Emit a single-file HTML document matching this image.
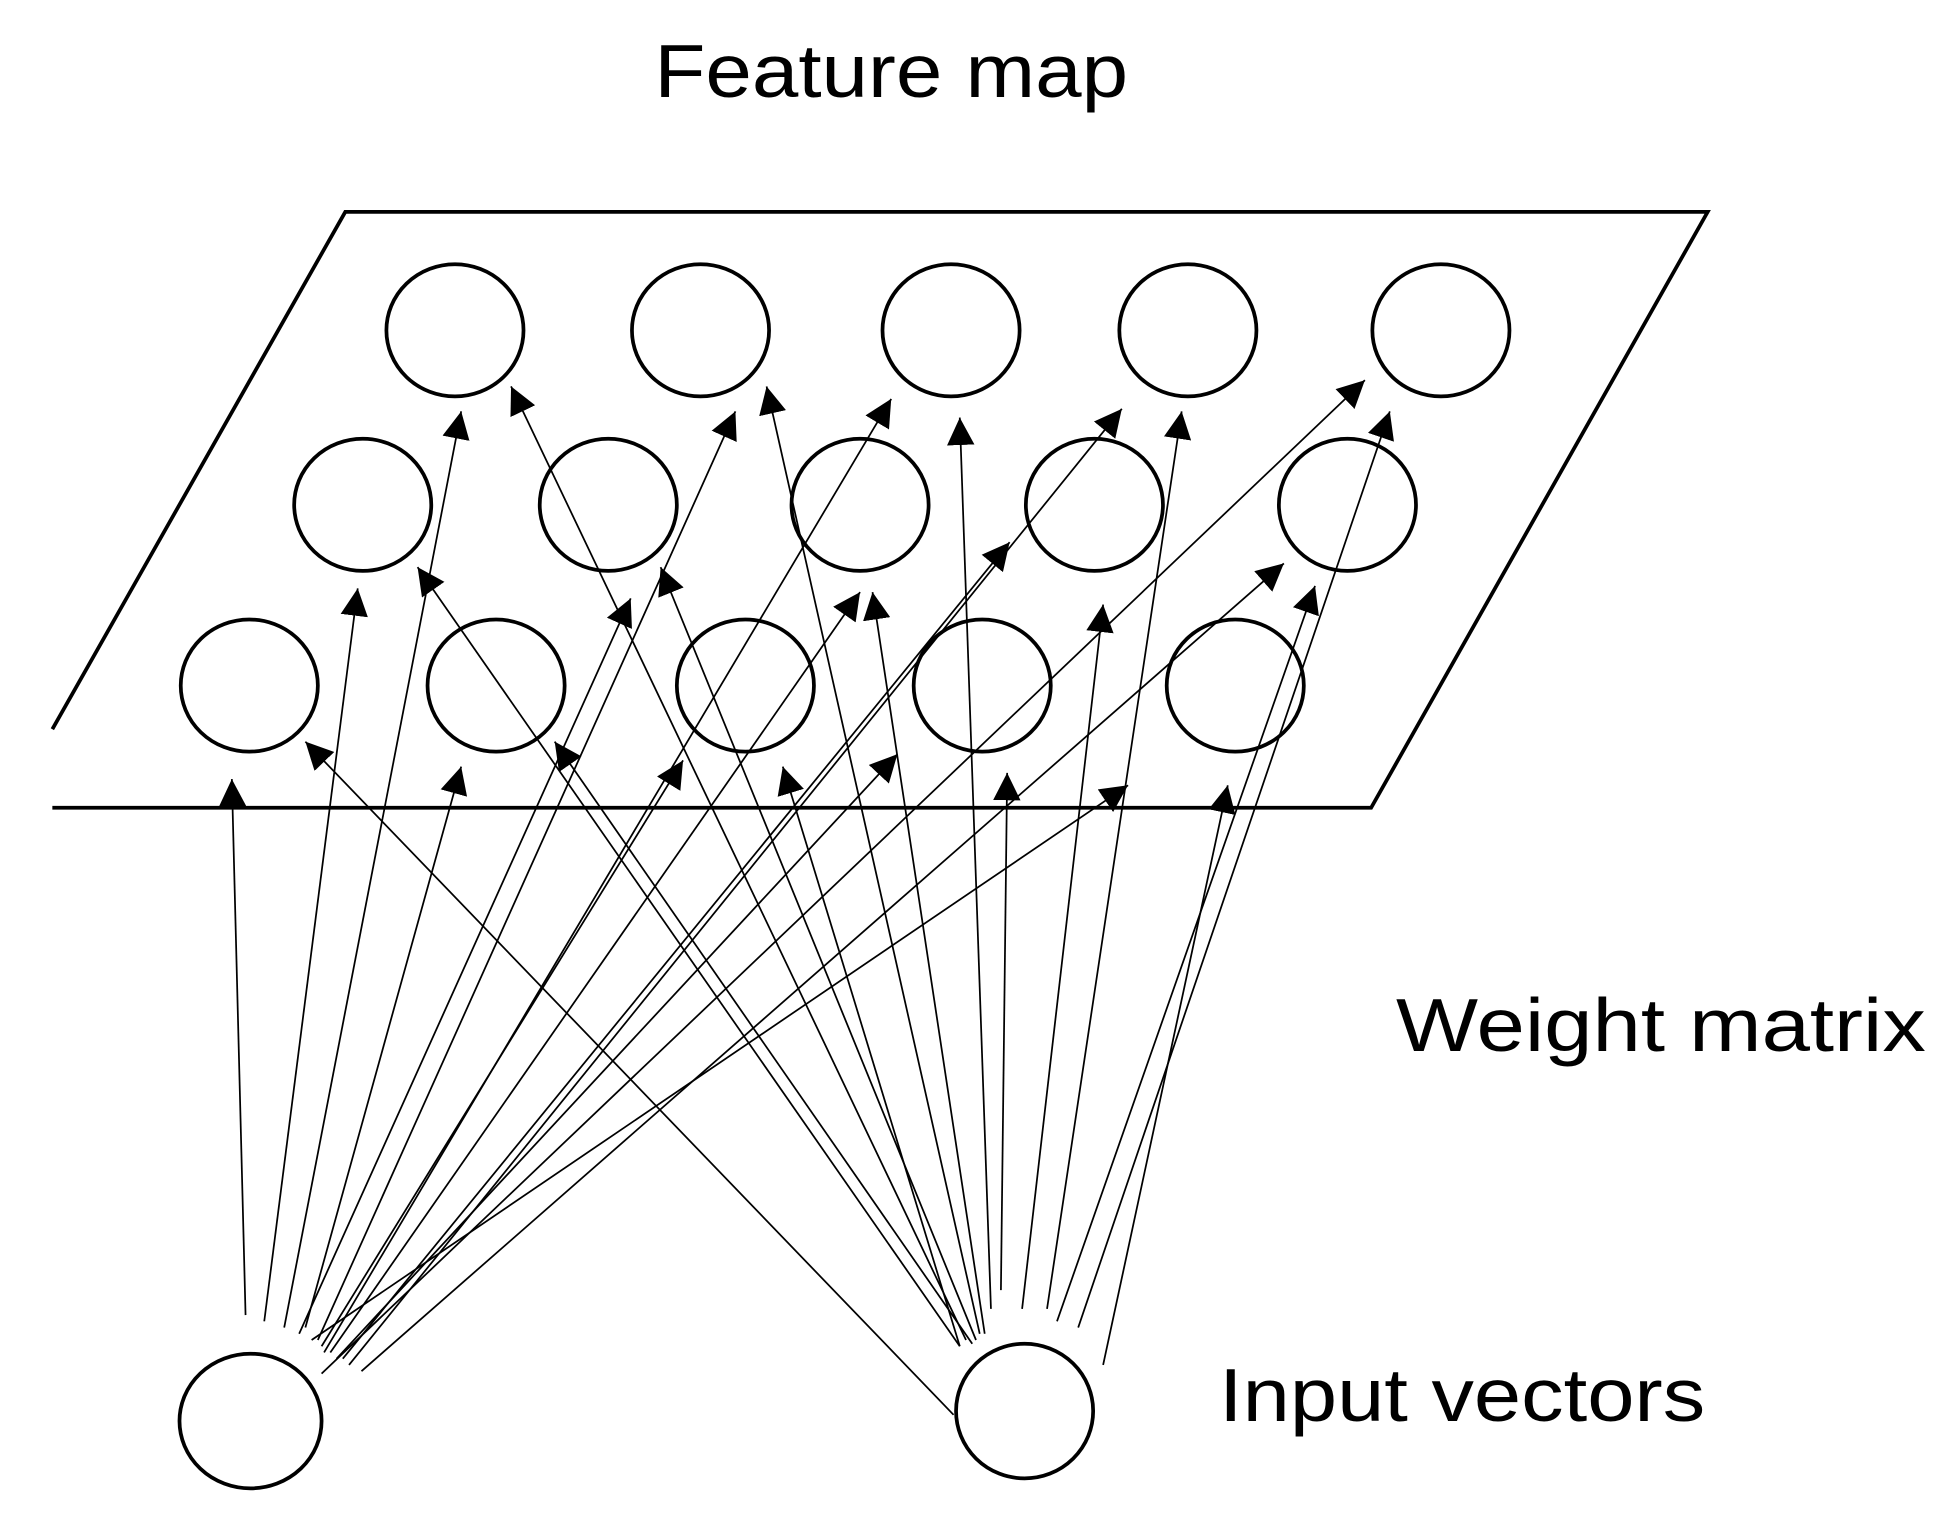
<!DOCTYPE html>
<html><head><meta charset="utf-8"><style>html,body{margin:0;padding:0;background:#fff}svg{display:block}</style></head>
<body>
<svg width="1942" height="1522" viewBox="0 0 1558 1221" preserveAspectRatio="none" xmlns="http://www.w3.org/2000/svg">
<defs><marker id="a" viewBox="0 0 10 10" refX="10" refY="5" markerWidth="22" markerHeight="22" markerUnits="userSpaceOnUse" orient="auto"><path d="M0,0 L10,5 L0,10 z" fill="#000"/></marker></defs>
<g font-family="Liberation Sans, sans-serif" fill="#000">
<text x="525" y="78" font-size="60" textLength="380" lengthAdjust="spacingAndGlyphs">Feature map</text>
<text x="1120" y="843" font-size="60" textLength="425" lengthAdjust="spacingAndGlyphs">Weight matrix</text>
<text x="978" y="1140" font-size="60" textLength="390" lengthAdjust="spacingAndGlyphs">Input vectors</text>
</g>
<g fill="none" stroke="#000" stroke-width="3">
<polyline points="42,585 277,170 1370,170 1100,648 42,648"/>
<g stroke-width="3">
<ellipse cx="365" cy="265" rx="55" ry="53"/><ellipse cx="562" cy="265" rx="55" ry="53"/><ellipse cx="763" cy="265" rx="55" ry="53"/><ellipse cx="953" cy="265" rx="55" ry="53"/><ellipse cx="1156" cy="265" rx="55" ry="53"/>
<ellipse cx="291" cy="405" rx="55" ry="53"/><ellipse cx="488" cy="405" rx="55" ry="53"/><ellipse cx="690" cy="405" rx="55" ry="53"/><ellipse cx="878" cy="405" rx="55" ry="53"/><ellipse cx="1081" cy="405" rx="55" ry="53"/>
<ellipse cx="200" cy="550" rx="55" ry="53"/><ellipse cx="398" cy="550" rx="55" ry="53"/><ellipse cx="598" cy="550" rx="55" ry="53"/><ellipse cx="788" cy="550" rx="55" ry="53"/><ellipse cx="991" cy="550" rx="55" ry="53"/>
<ellipse cx="201" cy="1140" rx="57" ry="54"/><ellipse cx="822" cy="1132" rx="55" ry="54"/>
</g>
</g>
<g stroke="#000" stroke-width="1.4" marker-end="url(#a)">
<line x1="197" y1="1055" x2="186" y2="625"/>
<line x1="212" y1="1060" x2="287" y2="472"/>
<line x1="228" y1="1065" x2="370" y2="330"/>
<line x1="245" y1="1065" x2="370" y2="615"/>
<line x1="240" y1="1070" x2="506" y2="480"/>
<line x1="255" y1="1075" x2="590" y2="330"/>
<line x1="258" y1="1080" x2="548" y2="610"/>
<line x1="260" y1="1085" x2="715" y2="320"/>
<line x1="265" y1="1085" x2="690" y2="475"/>
<line x1="270" y1="1090" x2="720" y2="605"/>
<line x1="275" y1="1090" x2="810" y2="435"/>
<line x1="280" y1="1095" x2="900" y2="328"/>
<line x1="258" y1="1102" x2="1095" y2="305"/>
<line x1="290" y1="1100" x2="1030" y2="452"/>
<line x1="250" y1="1075" x2="905" y2="630"/>
<line x1="765" y1="1135" x2="245" y2="595"/>
<line x1="770" y1="1080" x2="335" y2="455"/>
<line x1="775" y1="1075" x2="410" y2="310"/>
<line x1="780" y1="1078" x2="445" y2="595"/>
<line x1="783" y1="1075" x2="530" y2="455"/>
<line x1="786" y1="1070" x2="615" y2="310"/>
<line x1="770" y1="1080" x2="628" y2="615"/>
<line x1="790" y1="1070" x2="700" y2="475"/>
<line x1="795" y1="1050" x2="770" y2="335"/>
<line x1="803" y1="1035" x2="808" y2="620"/>
<line x1="820" y1="1050" x2="885" y2="485"/>
<line x1="840" y1="1050" x2="948" y2="330"/>
<line x1="848" y1="1060" x2="1055" y2="470"/>
<line x1="865" y1="1065" x2="1115" y2="330"/>
<line x1="885" y1="1095" x2="985" y2="630"/>
</g>
</svg>
</body></html>
